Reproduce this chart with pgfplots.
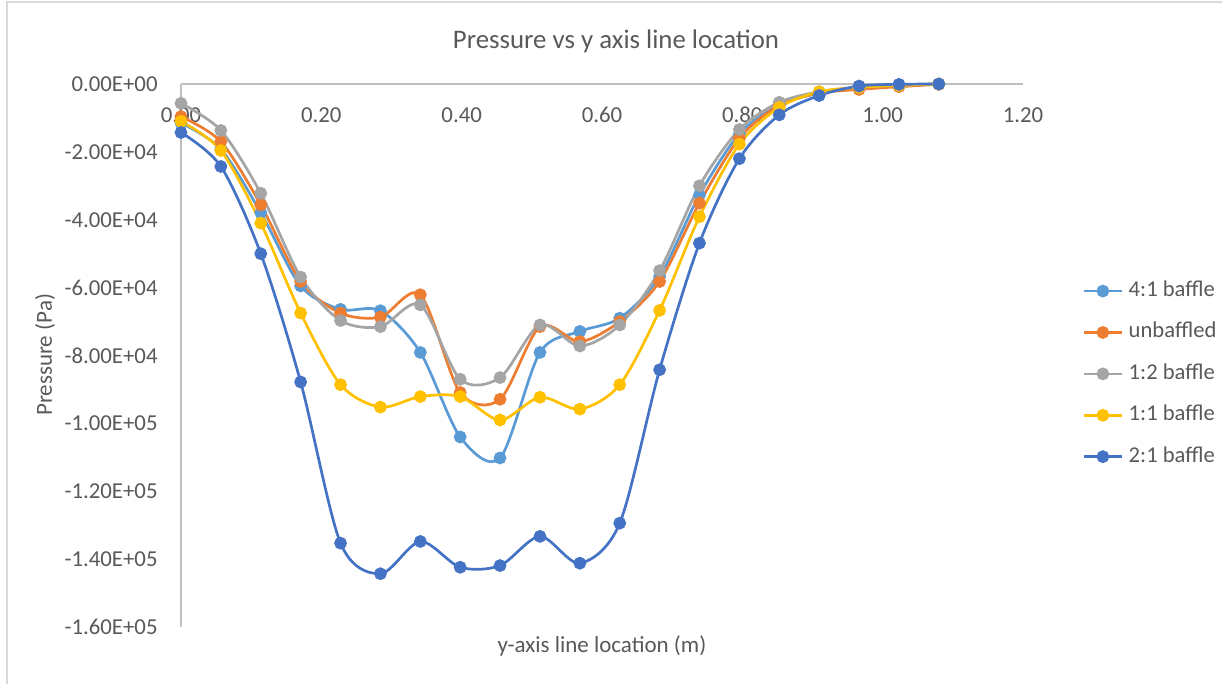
\documentclass[border=0pt]{standalone}
\usepackage{fontspec}
\setmainfont{Carlito}
\usepackage{pgfplots}
\usepackage{pgfplotstable}
\pgfplotsset{compat=1.18}

\definecolor{cA}{HTML}{5B9BD5}
\definecolor{cU}{HTML}{ED7D31}
\definecolor{cH}{HTML}{A5A5A5}
\definecolor{cE}{HTML}{FFC000}
\definecolor{cD}{HTML}{4472C4}
\definecolor{txt}{HTML}{595959}
\definecolor{axgray}{HTML}{BFBFBF}
\definecolor{frame}{HTML}{D9D9D9}

% x: y-axis line location (m); columns: pressure (Pa) per baffle configuration
\pgfplotstableread{
x       A        U        H        E        D
0.0000  -11500   -9600    -5700    -11000   -14300
0.0568  -19200   -17000   -13700   -19600   -24300
0.1137  -37900   -35600   -32200   -41000   -50000
0.1705  -59500   -58200   -56900   -67500   -87800
0.2274  -66400   -67500   -69700   -88600   -135300
0.2842  -66800   -68700   -71500   -95200   -144300
0.3411  -79100   -62100   -65100   -92100   -134800
0.3979  -104000  -90900   -87000   -92100   -142400
0.4547  -110200  -92900   -86500   -99000   -141900
0.5116  -79100   -71500   -71000   -92300   -133300
0.5684  -72900   -75900   -77200   -95800   -141200
0.6253  -69000   -70000   -71000   -88600   -129400
0.6821  -56700   -58200   -55000   -66700   -84200
0.7389  -32700   -35100   -30000   -39100   -46900
0.7958  -14700   -16000   -13400   -17700   -22000
0.8526  -6200    -6200    -5400    -6900    -9100
0.9095  -2700    -2700    -2300    -2300    -3400
0.9663  -1000    -1600    -1000    -1000    -600
1.0232  -400     -800     -400     -400     -100
1.0800  0        -100     0        0        0
}\pressure

\begin{document}
\begin{tikzpicture}
\useasboundingbox (0,0) rectangle (611pt,-342pt);
\draw[frame, line width=0.75pt] (3.5pt,-342pt) -- (3.5pt,-1pt) -- (611pt,-1pt);
\begin{axis}[
  at={(90.5pt,-42pt)}, anchor=north west,
  scale only axis,
  width=421pt, height=271.5pt,
  xmin=0, xmax=1.2, ymin=-160000, ymax=0,
  axis x line=middle, axis y line=left,
  axis line style={axgray, line width=0.75pt, -},
  hide obscured x ticks=false, hide obscured y ticks=false,
  major tick length=0pt,
  xtick={0,0.2,0.4,0.6,0.8,1.0,1.2},
  xticklabels={0.00,0.20,0.40,0.60,0.80,1.00,1.20},
  ytick={-160000,-140000,-120000,-100000,-80000,-60000,-40000,-20000,0},
  yticklabels={-1.60E+05,-1.40E+05,-1.20E+05,-1.00E+05,-8.00E+04,-6.00E+04,-4.00E+04,-2.00E+04,0.00E+00},
  scaled ticks=false,
  tick label style={font=\fontsize{11.4pt}{13pt}\selectfont, text=txt, inner sep=0pt},
  xticklabel style={anchor=center, yshift=-15.5pt},
  yticklabel style={anchor=east, xshift=-11.5pt},
  clip=false,
  legend cell align=left,
  legend style={draw=none, fill=none, inner sep=0pt, outer sep=0pt,
    at={(axis description cs:1.0713,0.638)}, anchor=north west,
    row sep=10.2pt, column sep=3pt,
    font=\fontsize{11.3pt}{13pt}\selectfont, text=txt,
    nodes={inner sep=0pt, text height=8pt, text depth=2.5pt}},
  legend image code/.code={
    \draw[mark repeat=2, mark phase=2, #1] plot coordinates {(0pt,0pt) (9.25pt,0pt) (18.5pt,0pt)};},
  every axis plot/.append style={line width=1.35pt, smooth, tension=0.5,
    mark=*, mark size=2.5pt},
]
\addplot[cA, mark options={fill=cA, draw=cA}] table[x=x, y=A] {\pressure};
\addlegendentry{4:1 baffle}
\addplot[cU, mark options={fill=cU, draw=cU}] table[x=x, y=U] {\pressure};
\addlegendentry{unbaffled}
\addplot[cH, mark options={fill=cH, draw=cH}] table[x=x, y=H] {\pressure};
\addlegendentry{1:2 baffle}
\addplot[cE, mark options={fill=cE, draw=cE}] table[x=x, y=E] {\pressure};
\addlegendentry{1:1 baffle}
\addplot[cD, mark options={fill=cD, draw=cD}] table[x=x, y=D] {\pressure};
\addlegendentry{2:1 baffle}
\node[font=\fontsize{13.4pt}{16pt}\selectfont, text=txt, anchor=center, inner sep=0pt]
  at (axis description cs:0.5166,1.079) {Pressure vs y axis line location};
\node[font=\fontsize{11.5pt}{14pt}\selectfont, text=txt, anchor=center]
  at (axis description cs:0.5,-0.035) {y-axis line location (m)};
\node[font=\fontsize{11.5pt}{14pt}\selectfont, text=txt, anchor=center, rotate=90]
  at (axis description cs:-0.1615,0.501) {Pressure (Pa)};
\end{axis}
\end{tikzpicture}
\end{document}
